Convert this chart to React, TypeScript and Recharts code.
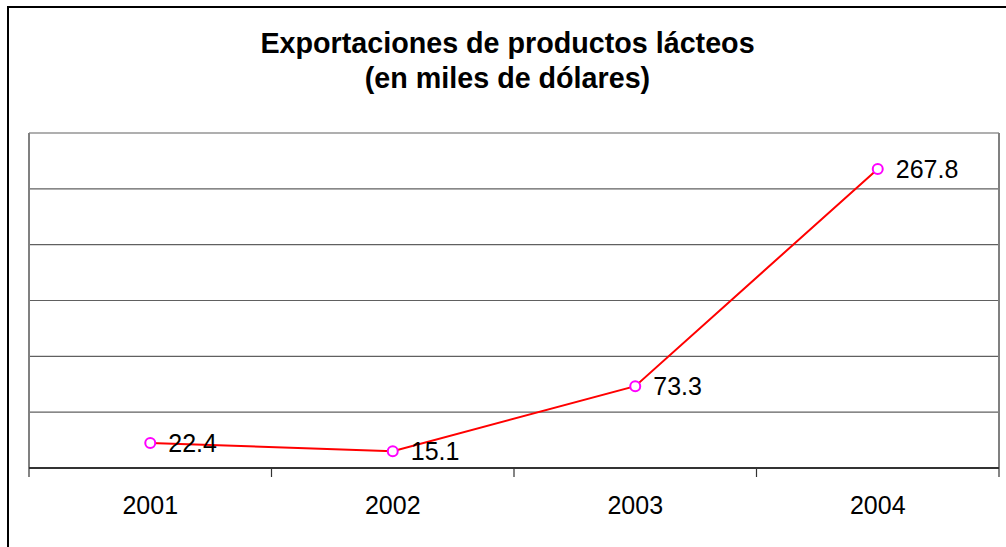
import React from "react";
import {
  ComposedChart,
  Line,
  XAxis,
  YAxis,
  CartesianGrid,
  LabelList,
} from "recharts";

const years = ["2001", "2002", "2003", "2004"];
const exports = [22.4, 15.1, 73.3, 267.8];
const yTicks = [0, 50, 100, 150, 200, 250, 300];

const data = years.map((year, i) => ({ year, value: exports[i] }));

const FONT = "Arial, 'Liberation Sans', sans-serif";

const NoTick = () => <g />;

const CatTick = (props: any) => {
  const { x, y, payload, index, visibleTicksCount } = props;
  const half = payload?.offset ?? 0;
  return (
    <g>
      <line x1={x - half} x2={x - half} y1={y} y2={y + 9} stroke="#333" strokeWidth={1.2} />
      {index === visibleTicksCount - 1 && (
        <line x1={x + half} x2={x + half} y1={y} y2={y + 9} stroke="#333" strokeWidth={1.2} />
      )}
      <text
        x={x}
        y={y + 46}
        textAnchor="middle"
        fill="#000"
        fontSize={25}
        fontFamily={FONT}
      >
        {payload.value}
      </text>
    </g>
  );
};

export default function App() {
  return (
    <div
      style={{
        position: "absolute",
        left: 0,
        top: 0,
        width: 1006,
        height: 547,
        overflow: "hidden",
        background: "#fff",
        fontFamily: FONT,
      }}
    >
      <div
        style={{
          position: "absolute",
          left: 7,
          top: 6,
          width: 1020,
          height: 570,
          border: "2px solid #000",
          boxSizing: "border-box",
        }}
      />
      <div
        style={{
          position: "absolute",
          left: 0,
          top: 26,
          width: 1015,
          textAlign: "center",
          fontWeight: "bold",
          fontSize: 28.7,
          lineHeight: "35px",
          color: "#000",
        }}
      >
        Exportaciones de productos lácteos
        <br />
        (en miles de dólares)
      </div>
      <div style={{ position: "absolute", left: 0, top: 0 }}>
        <ComposedChart
          width={1006}
          height={547}
          data={data}
          margin={{ top: 133, right: 6, bottom: 0, left: 28 }}
        >
          <CartesianGrid
            vertical={false}
            stroke="#606060"
            strokeWidth={1.2}
            xAxisId="cat"
            yAxisId="left"
          />
          <YAxis
            yAxisId="left"
            domain={[0, 300]}
            ticks={yTicks}
            width={1}
            tick={<NoTick />}
            tickLine={false}
            axisLine={{ stroke: "#808080", strokeWidth: 2 }}
          />
          <YAxis
            yAxisId="right"
            orientation="right"
            domain={[0, 300]}
            ticks={yTicks}
            width={1}
            tick={<NoTick />}
            tickLine={false}
            axisLine={{ stroke: "#808080", strokeWidth: 2 }}
          />
          <XAxis
            xAxisId="cat"
            dataKey="year"
            type="category"
            scale="band"
            height={79}
            tickLine={false}
            tickSize={0}
            tickMargin={0}
            axisLine={{ stroke: "#333", strokeWidth: 2 }}
            tick={<CatTick />}
            interval={0}
          />
          <Line
            xAxisId="cat"
            yAxisId="left"
            dataKey="value"
            stroke="#ff0000"
            strokeWidth={2}
            isAnimationActive={false}
            dot={{ r: 5, stroke: "#ff00ff", strokeWidth: 2, fill: "#fff" }}
            activeDot={false}
          >
            <LabelList
              dataKey="value"
              position="right"
              offset={18}
              fill="#000"
              fontSize={25}
              fontFamily={FONT}
              formatter={(v: number) => v.toFixed(1)}
            />
          </Line>
        </ComposedChart>
      </div>
    </div>
  );
}
